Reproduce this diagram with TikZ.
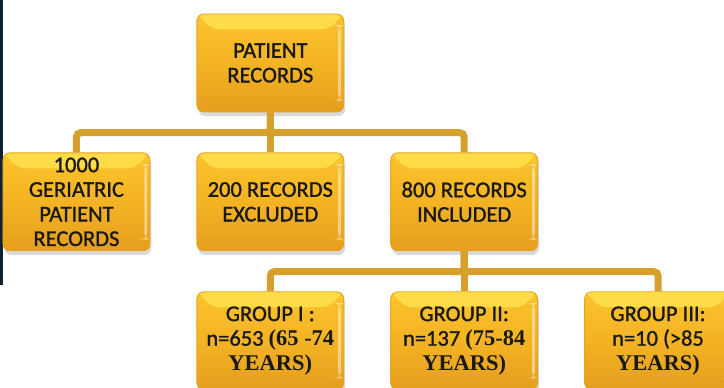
\documentclass[tikz,border=0pt]{standalone}
\usepackage{fontspec}
\setmainfont{Carlito}[FakeBold=1.2]
\newfontfamily\timesbf{Liberation Serif}
\usetikzlibrary{shadows}

\definecolor{boxtop}{HTML}{FBC42C}
\definecolor{boxmid}{HTML}{F4B324}
\definecolor{boxbot}{HTML}{E59E1E}
\definecolor{boxlight}{HTML}{FFE04E}
\definecolor{boxedge}{HTML}{E8A420}
\definecolor{linkgold}{HTML}{D6A02C}
\definecolor{edgenavy}{HTML}{10222F}
\newcommand{\yr}[1]{{\timesbf\bfseries #1}}

\begin{document}
\begin{tikzpicture}[node distance=4.85cm,
  box/.style={rounded corners=5pt, minimum width=3.675cm, minimum height=2.45cm, inner sep=0pt,
    align=center, top color=boxtop, bottom color=boxbot, middle color=boxmid,
    draw=boxedge, line width=0.6pt,
    drop shadow={opacity=0.3, shadow xshift=1pt, shadow yshift=-3pt},
    path picture={
      \fill[boxlight, opacity=0.85] (path picture bounding box.north west)
        -- (path picture bounding box.north east)
        -- ([xshift=-11pt, yshift=-11pt]path picture bounding box.north east)
        -- ([xshift=11pt, yshift=-11pt]path picture bounding box.north west) -- cycle;
      \fill[white, opacity=0.45] ([xshift=-4pt, yshift=-8pt]path picture bounding box.north east)
        rectangle ([xshift=-2pt, yshift=8pt]path picture bounding box.south east);},
    font=\fontsize{16}{17.5}\selectfont, text=black!90},
  link/.style={draw=linkgold, line width=5pt, rounded corners=3pt}]
  \useasboundingbox (-6.7625,1.575) rectangle (11.35,-8.125);
  \fill[edgenavy] (-6.7625,1.575) rectangle ++(0.07,-7.125);
  \node(rec)[box] {PATIENT\\RECORDS};
  \node(exc)[box, node distance=3.475cm, below of=rec] {200 RECORDS\\EXCLUDED};
  \node(ger)[box, left of=exc] {1000\\GERIATRIC\\PATIENT\\RECORDS};
  \node(inc)[box, right of=exc] {800 RECORDS\\INCLUDED};
  \node(g2)[box, node distance=3.475cm, below of=inc] {GROUP II:\\n=137 \yr{(75-84}\\\yr{YEARS)}};
  \node(g1)[box, left of=g2] {GROUP I :\\n=653 \yr{(65 -74}\\\yr{YEARS)}};
  \node(g3)[box, right of=g2] {GROUP III:\\n=10 (>85\\\yr{YEARS)}};
  \draw[link] (rec.south) -- (exc.north);
  \draw[link] (rec.south) -- ++(0,-0.51) -| (ger.north);
  \draw[link] (rec.south) -- ++(0,-0.51) -| (inc.north);
  \draw[link] (inc.south) -- (g2.north);
  \draw[link] (inc.south) -- ++(0,-0.51) -| (g1.north);
  \draw[link] (inc.south) -- ++(0,-0.51) -| (g3.north);
\end{tikzpicture}
\end{document}
